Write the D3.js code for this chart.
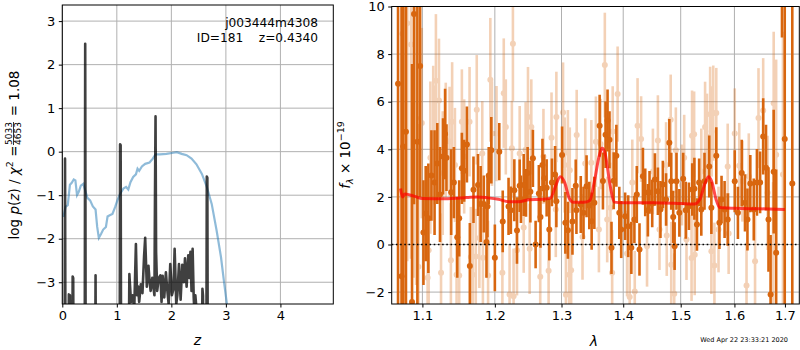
<!DOCTYPE html>
<html>
<head>
<meta charset="utf-8">
<script src="https://cdn.jsdelivr.net/npm/d3@7"></script>
<style>
body { margin: 0; background: #fff; }
svg { font-family: "DejaVu Sans", sans-serif; }
</style>
</head>
<body>
<script>
// ---- left panel: log p(z) ----
const pzPriorZ = [0.02,0.06,0.10,0.14,0.17,0.21,0.24,0.27,0.30,0.34,0.385,0.42,0.46,0.51,0.56,0.61,0.64,0.67,0.71,0.75,0.80,0.83,0.87,0.92,0.97,1.01,1.06,1.12,1.17,1.21,1.25,1.30,1.35,1.38,1.41,1.46,1.52,1.60,1.66,1.71,1.79,1.91,2.01,2.10,2.19,2.28,2.37,2.46,2.56,2.65,2.74,2.83,2.91,2.97,3.02,3.10];
const pzPriorV = [-1.50,-1.27,-1.23,-0.76,-0.72,-0.64,-0.66,-1.00,-0.93,-0.78,-0.74,-0.89,-1.06,-1.12,-1.26,-1.33,-1.73,-1.98,-1.89,-1.79,-1.73,-1.49,-1.46,-1.43,-1.27,-1.12,-0.97,-0.85,-0.81,-0.87,-0.70,-0.58,-0.52,-0.39,-0.44,-0.34,-0.28,-0.25,-0.16,-0.06,-0.06,-0.05,-0.03,-0.01,-0.05,-0.08,-0.16,-0.29,-0.51,-0.81,-1.20,-1.81,-2.42,-3.03,-3.51,-4.2];

const pzChiZ = [0.00,0.04,0.05,0.06,0.11,0.12,0.14,0.15,0.18,0.19,0.20,0.21,0.41,0.42,0.43,0.60,0.61,0.62,1.05,1.06,1.07,1.08,1.21,1.23,1.26,1.29,1.32,1.35,1.37,1.39,1.41,1.44,1.47,1.50,1.52,1.55,1.58,1.60,1.62,1.65,1.69,1.70,1.71,1.72,1.74,1.77,1.80,1.82,1.84,1.87,1.90,1.92,1.95,1.98,2.01,2.04,2.06,2.09,2.11,2.14,2.17,2.20,2.23,2.25,2.28,2.31,2.33,2.35,2.37,2.39,2.41,2.42,2.44,2.46,2.47,2.55,2.57,2.58,2.60,2.64,2.65,2.66,2.67,2.80];
const pzChiV = [-6,-6,-0.16,-6,-6,-3.28,-3.3,-6,-6,-2.87,-2.9,-6,-6,2.48,-6,-6,-2.84,-6,-6,0.17,0.15,-6,-6,-2.81,-3.46,-3.3,-3.6,-2.12,-3.3,-3.1,-3.45,-3.05,-3.25,-2.4,-1.98,-3.1,-2.62,-2.96,-3.2,-2.9,-3.3,-1.0,0.81,-2.3,-3.2,-2.9,-2.84,-3.45,-2.85,-3.35,-2.77,-3.1,-3.5,-2.58,-3.3,-3.15,-2.23,-3.5,-3.3,-2.58,-3.4,-2.6,-3.0,-2.45,-3.1,-2.38,-2.9,-2.3,-3.2,-2.23,-3.35,-3.6,-3.3,-3.6,-6,-6,-3.15,-3.3,-6,-6,-0.57,-0.6,-6,-6];

const pzXTicks = [0, 1, 2, 3, 4];
const pzYTicks = [-3, -2, -1, 0, 1, 2, 3];

// ---- right panel: spectrum ----
const darkLam = [1.0683,1.0728,1.0749,1.0785,1.0864,1.0890,1.0934,1.0970,1.1014,1.1044,1.1079,1.1120,1.1162,1.1199,1.1235,1.1276,1.1304,1.1323,1.1387,1.1424,1.1470,1.1497,1.1534,1.1566,1.1604,1.1645,1.1696,1.1760,1.1797,1.1842,1.1880,1.1894,1.1912,1.1949,1.2000,1.2064,1.2114,1.2199,1.2233,1.2284,1.2323,1.2363,1.2382,1.2423,1.2457,1.2482,1.2523,1.2561,1.2602,1.2651,1.2676,1.2706,1.2732,1.2770,1.2811,1.2851,1.2900,1.2920,1.3009,1.3060,1.3100,1.3172,1.3224,1.3235,1.3304,1.3348,1.3397,1.3441,1.3479,1.3523,1.3609,1.3663,1.3706,1.3739,1.3771,1.3804,1.3841,1.3885,1.3934,1.3966,1.4032,1.4084,1.4137,1.4189,1.4230,1.4276,1.4335,1.4375,1.4421,1.4449,1.4496,1.4543,1.4595,1.4640,1.4682,1.4739,1.4797,1.4831,1.4866,1.4891,1.4925,1.4976,1.5045,1.5092,1.5149,1.5209,1.5249,1.5296,1.5336,1.5376,1.5435,1.5523,1.5563,1.5655,1.5714,1.5754,1.5812,1.5871,1.6006,1.6067,1.6141,1.6204,1.6252,1.6308,1.6376,1.6438,1.6501,1.6562,1.6618,1.6668,1.6710,1.6772,1.6822,1.6940,1.6996,1.7151];
const darkFlux = [6.75,-1.33,4.12,4.74,-2.42,9.69,4.32,7.5,0.5,1.3,1.1,2.9,2.6,3.4,2.1,3.7,4.64,3.65,2.2,2.6,0.3,1.1,3.2,3.1,4.2,-0.9,2.3,2.5,1.7,1.7,0.1,1.6,2.9,3.96,-0.56,3.9,0.97,1.6,1.44,2.28,0.59,2.47,1.9,2.5,2.17,3.0,2.22,3.62,0.0,2.14,1.16,3.34,2.78,2.38,0.63,2.61,2.94,1.82,3.76,0.91,0.6,0.97,2.47,1.44,1.68,1.33,2.45,1.64,0.98,1.75,4.99,2.67,4.61,5.21,4.4,-0.14,2.68,3.73,1.33,0.63,1.19,0.77,-0.14,1.05,2.1,-0.21,2.87,2.19,1.44,2.19,1.72,2.73,2.24,1.47,2.52,1.89,4.27,2.66,1.16,-0.07,2.66,1.33,2.76,1.44,1.61,2.31,2.34,0.84,2.61,1.47,2.66,3.28,1.54,3.73,0.91,1.89,1.47,1.05,2.66,1.33,3.0,1.75,1.05,2.56,1.47,2.61,2.61,4.54,3.23,1.05,-2.1,3.06,-0.35,14.0,4.43,2.56];
const darkErr = [12,12,10,9,10,8,7,5.5,2.2,2.0,2.3,1.9,2.2,1.7,2.0,1.6,1.9,1.4,1.8,1.5,1.7,1.6,1.5,1.3,1.6,1.8,1.4,1.3,1.6,1.2,1.5,1.3,1.2,1.4,1.4,1.2,1.3,1.2,1.0,1.3,1.4,1.1,1.0,1.3,1.0,1.1,1.3,1.2,1.0,1.2,1.3,1.1,1.0,1.2,1.3,1.0,1.2,1.1,1.2,1.3,1.2,1.4,1.1,1.0,1.2,1.1,1.3,1.0,1.2,1.1,1.3,1.2,1.4,1.3,1.2,1.1,1.2,1.3,1.1,1.2,1.0,1.3,1.1,1.0,1.2,1.1,1.2,1.0,1.1,0.9,1.0,1.1,1.0,1.2,1.0,1.1,1.0,1.2,1.1,1.0,1.2,1.0,1.1,1.2,1.0,1.1,1.3,1.1,1.0,1.1,1.2,1.3,1.1,1.2,1.1,1.0,1.2,1.1,1.3,1.1,1.4,1.2,1.3,1.2,1.3,1.4,1.3,1.6,1.8,2.2,2.5,2.6,3.5,5.3,9,12];

const lightLam = [1.0741,1.0758,1.0762,1.0802,1.0851,1.0890,1.0917,1.0947,1.0992,1.1069,1.1083,1.1106,1.1144,1.1162,1.1180,1.1221,1.1249,1.1272,1.1313,1.1365,1.1383,1.1400,1.1438,1.1461,1.1497,1.1534,1.1566,1.1641,1.1659,1.1686,1.1728,1.1742,1.1779,1.1820,1.1829,1.1903,1.1935,1.1958,1.2024,1.2109,1.2129,1.2159,1.2214,1.2248,1.2263,1.2273,1.2323,1.2363,1.2423,1.2452,1.2487,1.2512,1.2537,1.2672,1.2721,1.2800,1.2845,1.2911,1.2920,1.3024,1.3049,1.3069,1.3100,1.3120,1.3130,1.3151,1.3239,1.3332,1.3376,1.3474,1.3548,1.3597,1.3624,1.3694,1.3733,1.3787,1.3815,1.3824,1.3906,1.4065,1.4109,1.4153,1.4195,1.4243,1.4304,1.4406,1.4508,1.4595,1.4623,1.4739,1.4751,1.4821,1.4831,1.4884,1.4913,1.5023,1.5063,1.5105,1.5197,1.5206,1.5244,1.5255,1.5376,1.5446,1.5481,1.5540,1.5563,1.5568,1.5598,1.5620,1.5655,1.5697,1.5871,1.5889,1.6006,1.6093,1.6154,1.6234,1.6278,1.6401,1.6469,1.6562,1.6650,1.6760,1.6772,1.6822,1.6960];
const lightFlux = [8.85,0.5,3.35,9.3,8.4,6.6,5.3,-0.94,5.1,-1.4,-0.24,3.65,4.71,4.18,6.88,6.05,-1.19,3.0,4.4,4.33,-0.66,5.16,3.34,-1.27,-1.3,5.16,3.7,5.16,-0.52,-1.27,-0.5,5.66,0.27,3.82,-0.56,-1.3,6.92,4.66,4.66,-1.19,6.36,4.94,-2.1,4.04,8.43,-2.17,-0.24,3.82,0.71,3.98,5.36,-0.18,4.94,-1.36,3.7,-1.1,4.49,1.47,5.36,5.55,3.34,-2.11,3.85,-1.27,3.12,-1.08,4.6,0.32,3.4,3.43,4.32,0.63,4.22,7.54,1.05,1.54,-1.19,4.75,6.32,-0.38,-2.21,2.61,-1.97,4.99,4.43,-0.07,3.07,4.37,0.63,3.34,0.38,5.24,-0.85,-2.07,3.96,2.5,3.65,0.21,-0.57,4.57,4.63,-0.43,3.07,4.94,4.54,5.47,-0.28,4.75,5.52,-0.88,5.52,0.63,3.28,0.46,4.66,3.31,2.66,-1.72,2.87,-0.7,5.31,5.63,2.17,-0.18,5.94,3.77,2.94];
const lightErr = [10,9,8,10,9,8,7,6,4,3.5,3,3.2,2.8,2.5,2.8,2.6,2.5,2.6,2.4,2.3,2.4,2.5,2.4,2.2,2.3,2.2,2.4,2.3,2.1,2.2,2.0,2.3,2.1,2.2,2.1,2.3,2.6,2.2,2.0,2.2,2.3,2.0,2.1,2.0,2.4,2.0,1.9,2.0,1.9,2.0,2.1,1.9,2.0,1.9,2.0,1.8,1.9,2.0,1.9,2.1,2.0,1.9,1.8,1.9,1.8,2.0,1.9,1.8,1.9,1.8,1.9,1.8,1.9,2.2,1.8,1.9,1.8,1.9,2.0,1.8,1.9,1.8,1.7,2.0,1.8,1.7,1.8,1.9,1.7,1.8,1.7,1.9,1.8,1.7,1.8,1.7,1.8,1.7,1.8,1.9,1.8,1.7,1.8,1.9,1.8,2.0,1.8,1.9,2.0,1.8,1.9,1.8,1.8,1.7,1.9,1.8,1.7,1.8,1.8,1.9,2.1,2.2,2.4,2.8,3.0,4.0,6.0];

const modelLam = [1.0715,1.074,1.077,1.09,1.10,1.13,1.16,1.175,1.19,1.205,1.22,1.235,1.25,1.27,1.283,1.29,1.298,1.305,1.312,1.318,1.335,1.345,1.352,1.36,1.365,1.37,1.378,1.385,1.40,1.45,1.50,1.525,1.535,1.545,1.551,1.557,1.565,1.572,1.60,1.65,1.70];
const modelFlux = [2.35,2.0,2.12,2.02,1.93,1.92,1.97,2.0,1.96,1.9,1.8,1.8,1.88,1.9,1.95,2.4,2.85,2.6,1.95,1.78,1.77,1.85,2.6,3.7,4.05,3.8,2.5,1.78,1.75,1.75,1.72,1.7,1.9,2.6,2.85,2.65,1.9,1.55,1.52,1.5,1.47];

const specXTicks = [1.1, 1.2, 1.3, 1.4, 1.5, 1.6, 1.7];
const specYTicks = [-2, 0, 2, 4, 6, 8, 10];

const W = 800, H = 350;
const orange = "#d8660f";
const gridColor = "#b0b0b0";

const svg = d3.select("body").append("svg")
  .attr("width", W).attr("height", H);

// ---------- left panel ----------
const L = {x0: 62.3, x1: 333.3, y0: 5, y1: 304};
const xL = d3.scaleLinear().domain([0, 4.97]).range([L.x0, L.x1]);
const yL = d3.scaleLinear().domain([-3.5, 3.37]).range([L.y1, L.y0]);

svg.append("clipPath").attr("id", "clipL").append("rect")
  .attr("x", L.x0).attr("y", L.y0).attr("width", L.x1 - L.x0).attr("height", L.y1 - L.y0);

const gL = svg.append("g");
gL.selectAll("line.gx").data(pzXTicks).enter().append("line")
  .attr("x1", d => xL(d)).attr("x2", d => xL(d)).attr("y1", L.y0).attr("y2", L.y1)
  .attr("stroke", gridColor).attr("stroke-width", 1);
gL.selectAll("line.gy").data(pzYTicks).enter().append("line")
  .attr("y1", d => yL(d)).attr("y2", d => yL(d)).attr("x1", L.x0).attr("x2", L.x1)
  .attr("stroke", gridColor).attr("stroke-width", 1);

const lineL = d3.line().x(d => xL(d[0])).y(d => yL(d[1]));
const plotL = gL.append("g").attr("clip-path", "url(#clipL)");
plotL.append("path")
  .datum(pzPriorZ.map((z, i) => [z, pzPriorV[i]]))
  .attr("d", lineL).attr("fill", "none")
  .attr("stroke", "#1f77b4").attr("stroke-opacity", 0.5).attr("stroke-width", 2.2);
plotL.append("path")
  .datum(pzChiZ.map((z, i) => [z, pzChiV[i]]))
  .attr("d", lineL).attr("fill", "none")
  .attr("stroke", "#000").attr("stroke-opacity", 0.75).attr("stroke-width", 2.6)
  .attr("stroke-linejoin", "round");

gL.append("g").attr("transform", `translate(0,${L.y1})`)
  .call(d3.axisBottom(xL).tickValues(pzXTicks).tickSize(3.5).tickPadding(3.5).tickFormat(d3.format("d")))
  .call(g => g.select(".domain").remove());
gL.append("g").attr("transform", `translate(${L.x0},0)`)
  .call(d3.axisLeft(yL).tickValues(pzYTicks).tickSize(3.5).tickPadding(3.5)
    .tickFormat(d => d < 0 ? "\u2212" + Math.abs(d) : String(d)))
  .call(g => g.select(".domain").remove());

gL.append("rect").attr("x", L.x0).attr("y", L.y0)
  .attr("width", L.x1 - L.x0).attr("height", L.y1 - L.y0)
  .attr("fill", "none").attr("stroke", "#000").attr("stroke-width", 1);

gL.append("text").attr("x", 318).attr("y", 27).attr("text-anchor", "end")
  .attr("font-size", 12.2).text("j003444m4308");
gL.append("text").attr("x", 318).attr("y", 42).attr("text-anchor", "end")
  .attr("font-size", 12.2).attr("xml:space", "preserve").text("ID=181    z=0.4340");

gL.append("text").attr("x", xL(2.48)).attr("y", 345).attr("text-anchor", "middle")
  .attr("font-size", 14).attr("font-style", "italic").text("z");

// y label with fraction
const yLab = svg.append("g");
const t1 = yLab.append("text").attr("x", 0).attr("y", 0).attr("font-size", 13.5);
t1.append("tspan").text("log ");
t1.append("tspan").attr("font-style", "italic").text("p");
t1.append("tspan").text("(");
t1.append("tspan").attr("font-style", "italic").text("z");
t1.append("tspan").text(") / ");
t1.append("tspan").attr("font-style", "italic").text("\u03c7");
t1.append("tspan").attr("font-size", 9.5).attr("dy", -6).text("2");
t1.append("tspan").attr("dy", 6).text(" = ");
const w1 = t1.node().getComputedTextLength();
const fracW = 24;
yLab.append("text").attr("x", w1 + fracW / 2).attr("y", -6.5).attr("text-anchor", "middle")
  .attr("font-size", 9).text("5033");
yLab.append("text").attr("x", w1 + fracW / 2).attr("y", 2).attr("text-anchor", "middle")
  .attr("font-size", 9).text("4653");
yLab.append("line").attr("x1", w1 + 0.5).attr("x2", w1 + fracW - 0.5)
  .attr("y1", -5).attr("y2", -5).attr("stroke", "#000").attr("stroke-width", 0.8);
const t2 = yLab.append("text").attr("x", w1 + fracW + 1).attr("y", 0)
  .attr("font-size", 13.5).attr("xml:space", "preserve").text(" = 1.08");
const wTot = w1 + fracW + 1 + t2.node().getComputedTextLength();
yLab.attr("transform", `translate(18.5,${155 + wTot / 2}) rotate(-90)`);

// ---------- right panel ----------
const R = {x0: 391.7, x1: 799.3, y0: 6.5, y1: 304};
const xR = d3.scaleLog().domain([1.0602, 1.7296]).range([R.x0, R.x1]);
const yR = d3.scaleLinear().domain([-2.5, 10]).range([R.y1, R.y0]);

svg.append("clipPath").attr("id", "clipR").append("rect")
  .attr("x", R.x0).attr("y", R.y0).attr("width", R.x1 - R.x0).attr("height", R.y1 - R.y0);

const gR = svg.append("g");
gR.selectAll("line.gx").data(specXTicks).enter().append("line")
  .attr("x1", d => xR(d)).attr("x2", d => xR(d)).attr("y1", R.y0).attr("y2", R.y1)
  .attr("stroke", gridColor).attr("stroke-width", 1);
gR.selectAll("line.gy").data(specYTicks).enter().append("line")
  .attr("y1", d => yR(d)).attr("y2", d => yR(d)).attr("x1", R.x0).attr("x2", R.x1)
  .attr("stroke", gridColor).attr("stroke-width", 1);

const plotR = gR.append("g").attr("clip-path", "url(#clipR)");

function drawSeries(lam, flux, err, opacity) {
  const data = lam.map((l, i) => ({l: l, f: flux[i], e: err[i]}));
  const g = plotR.append("g").attr("opacity", opacity);
  g.selectAll("line").data(data).enter().append("line")
    .attr("x1", d => xR(d.l)).attr("x2", d => xR(d.l))
    .attr("y1", d => yR(d.f - d.e)).attr("y2", d => yR(d.f + d.e))
    .attr("stroke", orange).attr("stroke-width", 2.6);
  g.selectAll("circle").data(data).enter().append("circle")
    .attr("cx", d => xR(d.l)).attr("cy", d => yR(d.f)).attr("r", 3)
    .attr("fill", orange);
}
drawSeries(lightLam, lightFlux, lightErr, 0.3);
drawSeries(darkLam, darkFlux, darkErr, 1);

plotR.append("path")
  .datum(modelLam.map((l, i) => [l, modelFlux[i]]))
  .attr("d", d3.line().x(d => xR(d[0])).y(d => yR(d[1])).curve(d3.curveMonotoneX))
  .attr("fill", "none").attr("stroke", "red").attr("stroke-opacity", 0.7)
  .attr("stroke-width", 3);

plotR.append("line").attr("x1", R.x0).attr("x2", R.x1)
  .attr("y1", yR(0)).attr("y2", yR(0))
  .attr("stroke", "#000").attr("stroke-width", 1.6).attr("stroke-dasharray", "1.6,2.6");

gR.append("g").attr("transform", `translate(0,${R.y1})`)
  .call(d3.axisBottom(xR).tickValues(specXTicks).tickSize(3.5).tickPadding(3.5).tickFormat(d3.format(".1f")))
  .call(g => g.select(".domain").remove());
gR.append("g").attr("transform", `translate(${R.x0},0)`)
  .call(d3.axisLeft(yR).tickValues(specYTicks).tickSize(3.5).tickPadding(3.5)
    .tickFormat(d => d < 0 ? "\u2212" + Math.abs(d) : String(d)))
  .call(g => g.select(".domain").remove());

gR.append("rect").attr("x", R.x0).attr("y", R.y0)
  .attr("width", R.x1 - R.x0).attr("height", R.y1 - R.y0)
  .attr("fill", "none").attr("stroke", "#000").attr("stroke-width", 1);

gR.append("text").attr("x", 594).attr("y", 346).attr("text-anchor", "middle")
  .attr("font-size", 14).attr("font-style", "italic").text("\u03bb");

const yLabR = gR.append("text").attr("font-size", 13.5)
  .attr("transform", "translate(349.5,155) rotate(-90)").attr("text-anchor", "middle");
yLabR.append("tspan").attr("font-style", "italic").text("f");
yLabR.append("tspan").attr("font-style", "italic").attr("font-size", 9.5).attr("dy", 3).text("\u03bb");
yLabR.append("tspan").attr("dy", -3).text(" \u00d7 10");
yLabR.append("tspan").attr("font-size", 9.5).attr("dy", -6).text("\u221219");

svg.append("text").attr("x", 788).attr("y", 342).attr("text-anchor", "end")
  .attr("font-size", 6.5).text("Wed Apr 22 23:33:21 2020");

svg.selectAll(".tick text").attr("font-size", 13).attr("font-family", "DejaVu Sans").attr("fill", "#000");
svg.selectAll(".tick line").attr("stroke", "#000");
</script>
</body>
</html>
